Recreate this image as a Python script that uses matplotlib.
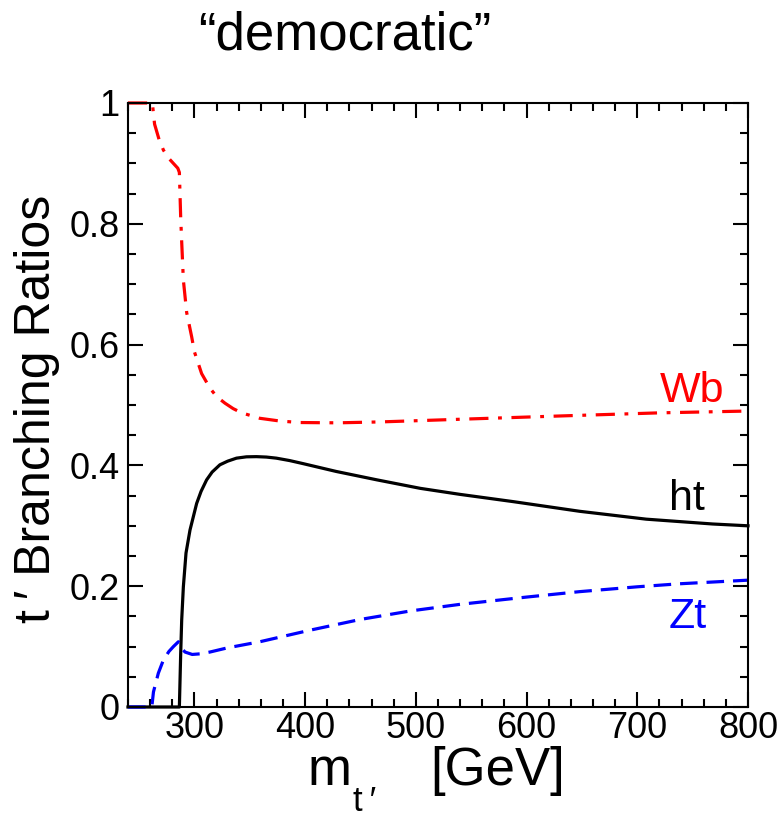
import matplotlib
matplotlib.use("Agg")
import matplotlib.pyplot as plt
from matplotlib.ticker import MultipleLocator

plt.rcParams['font.family'] = ['Liberation Sans', 'DejaVu Sans']

# t' -> Wb
wb_m = [240, 262, 264, 268, 272, 277, 281, 285, 286.4, 287.6, 288.5, 290, 293, 297.5, 300,
        306.5, 314, 320, 327.6, 335, 342.7, 359, 377, 395, 413, 430, 468, 550, 633, 720, 800]
wb = [1.0, 1.0, 0.965, 0.94, 0.922, 0.908, 0.90, 0.892, 0.885, 0.81, 0.77, 0.707, 0.653, 0.613, 0.588,
      0.552, 0.528, 0.514, 0.503, 0.494, 0.487, 0.478, 0.4735, 0.471, 0.4707, 0.4705, 0.472, 0.477,
      0.482, 0.487, 0.490]

# t' -> ht
ht_m = [240, 286.4, 287.6, 288.5, 290, 292.4, 296, 302, 306, 311, 316, 323, 330, 338, 347, 356,
        365, 374, 386, 398, 428, 465, 504, 540, 588, 648, 708, 768, 800]
ht = [0, 0, 0.089, 0.144, 0.199, 0.255, 0.293, 0.337, 0.357, 0.376, 0.389, 0.401, 0.407, 0.412,
      0.4142, 0.4145, 0.4138, 0.412, 0.408, 0.403, 0.390, 0.376, 0.362, 0.352, 0.340, 0.324,
      0.311, 0.303, 0.300]

# t' -> Zt
zt_m = [240, 261.5, 263, 267.4, 272, 277, 281, 285.5, 288, 291.5, 298, 305, 314, 330, 359,
        404, 450, 495, 540, 600, 648, 700, 738, 800]
zt = [0, 0, 0.025, 0.056, 0.078, 0.092, 0.100, 0.108, 0.098, 0.091, 0.087, 0.088, 0.091, 0.098, 0.108,
      0.127, 0.145, 0.159, 0.170, 0.182, 0.191, 0.199, 0.204, 0.210]

xticks = [300, 400, 500, 600, 700, 800]
yticks = [0, 0.2, 0.4, 0.6, 0.8, 1.0]
ylabels = ['0', '0.2', '0.4', '0.6', '0.8', '1']

fig = plt.figure(figsize=(7.84, 8.19), dpi=100)
ax = fig.add_axes([128/784, 1-707/819, 620/784, 604/819])

ax.plot(wb_m, wb, color='#ff0000', lw=2.3, dashes=(6, 3, 1.2, 3), clip_on=False)
ax.plot(ht_m, ht, color='black', lw=2.3, clip_on=False)
ax.plot(zt_m, zt, color='#0000ff', lw=2.3, dashes=(5.5, 2.8), clip_on=False)

ax.set_xlim(240, 800)
ax.set_ylim(0, 1)
ax.set_xticks(xticks)
ax.set_yticks(yticks)
ax.set_yticklabels(ylabels)
ax.xaxis.set_minor_locator(MultipleLocator(20))
ax.yaxis.set_minor_locator(MultipleLocator(0.05))
ax.tick_params(which='both', direction='in', top=True, right=True, width=1.5, labelsize=26)
ax.tick_params(which='major', length=10.5)
ax.tick_params(which='minor', length=5.5)
ax.tick_params(axis='x', pad=3)
ax.tick_params(axis='y', pad=6)
for s in ax.spines.values():
    s.set_linewidth(1.5)

ax.text(779, 0.505, 'Wb', color='#ff0000', fontsize=31, ha='right', va='baseline')
ax.text(761, 0.326, 'ht', color='black', fontsize=31, ha='right', va='baseline')
ax.text(763, 0.131, 'Zt', color='#0000ff', fontsize=31, ha='right', va='baseline')

fig.text(345/784, 1-50/819, '\u201cdemocratic\u201d', fontsize=38, ha='center', va='baseline')
fig.text(37/784, 1-409/819, 't\u2009\u2032 Branching Ratios', fontsize=36, rotation=90,
         ha='center', va='center')
fig.text(308/784, 1-785/819, 'm', fontsize=38, ha='left', va='baseline')
fig.text(353/784, 1-811/819, 't\u2009\u2032', fontsize=25, ha='left', va='baseline')
fig.text(430/784, 1-785/819, '[GeV]', fontsize=38, ha='left', va='baseline')

fig.savefig('out.png', dpi=100)
